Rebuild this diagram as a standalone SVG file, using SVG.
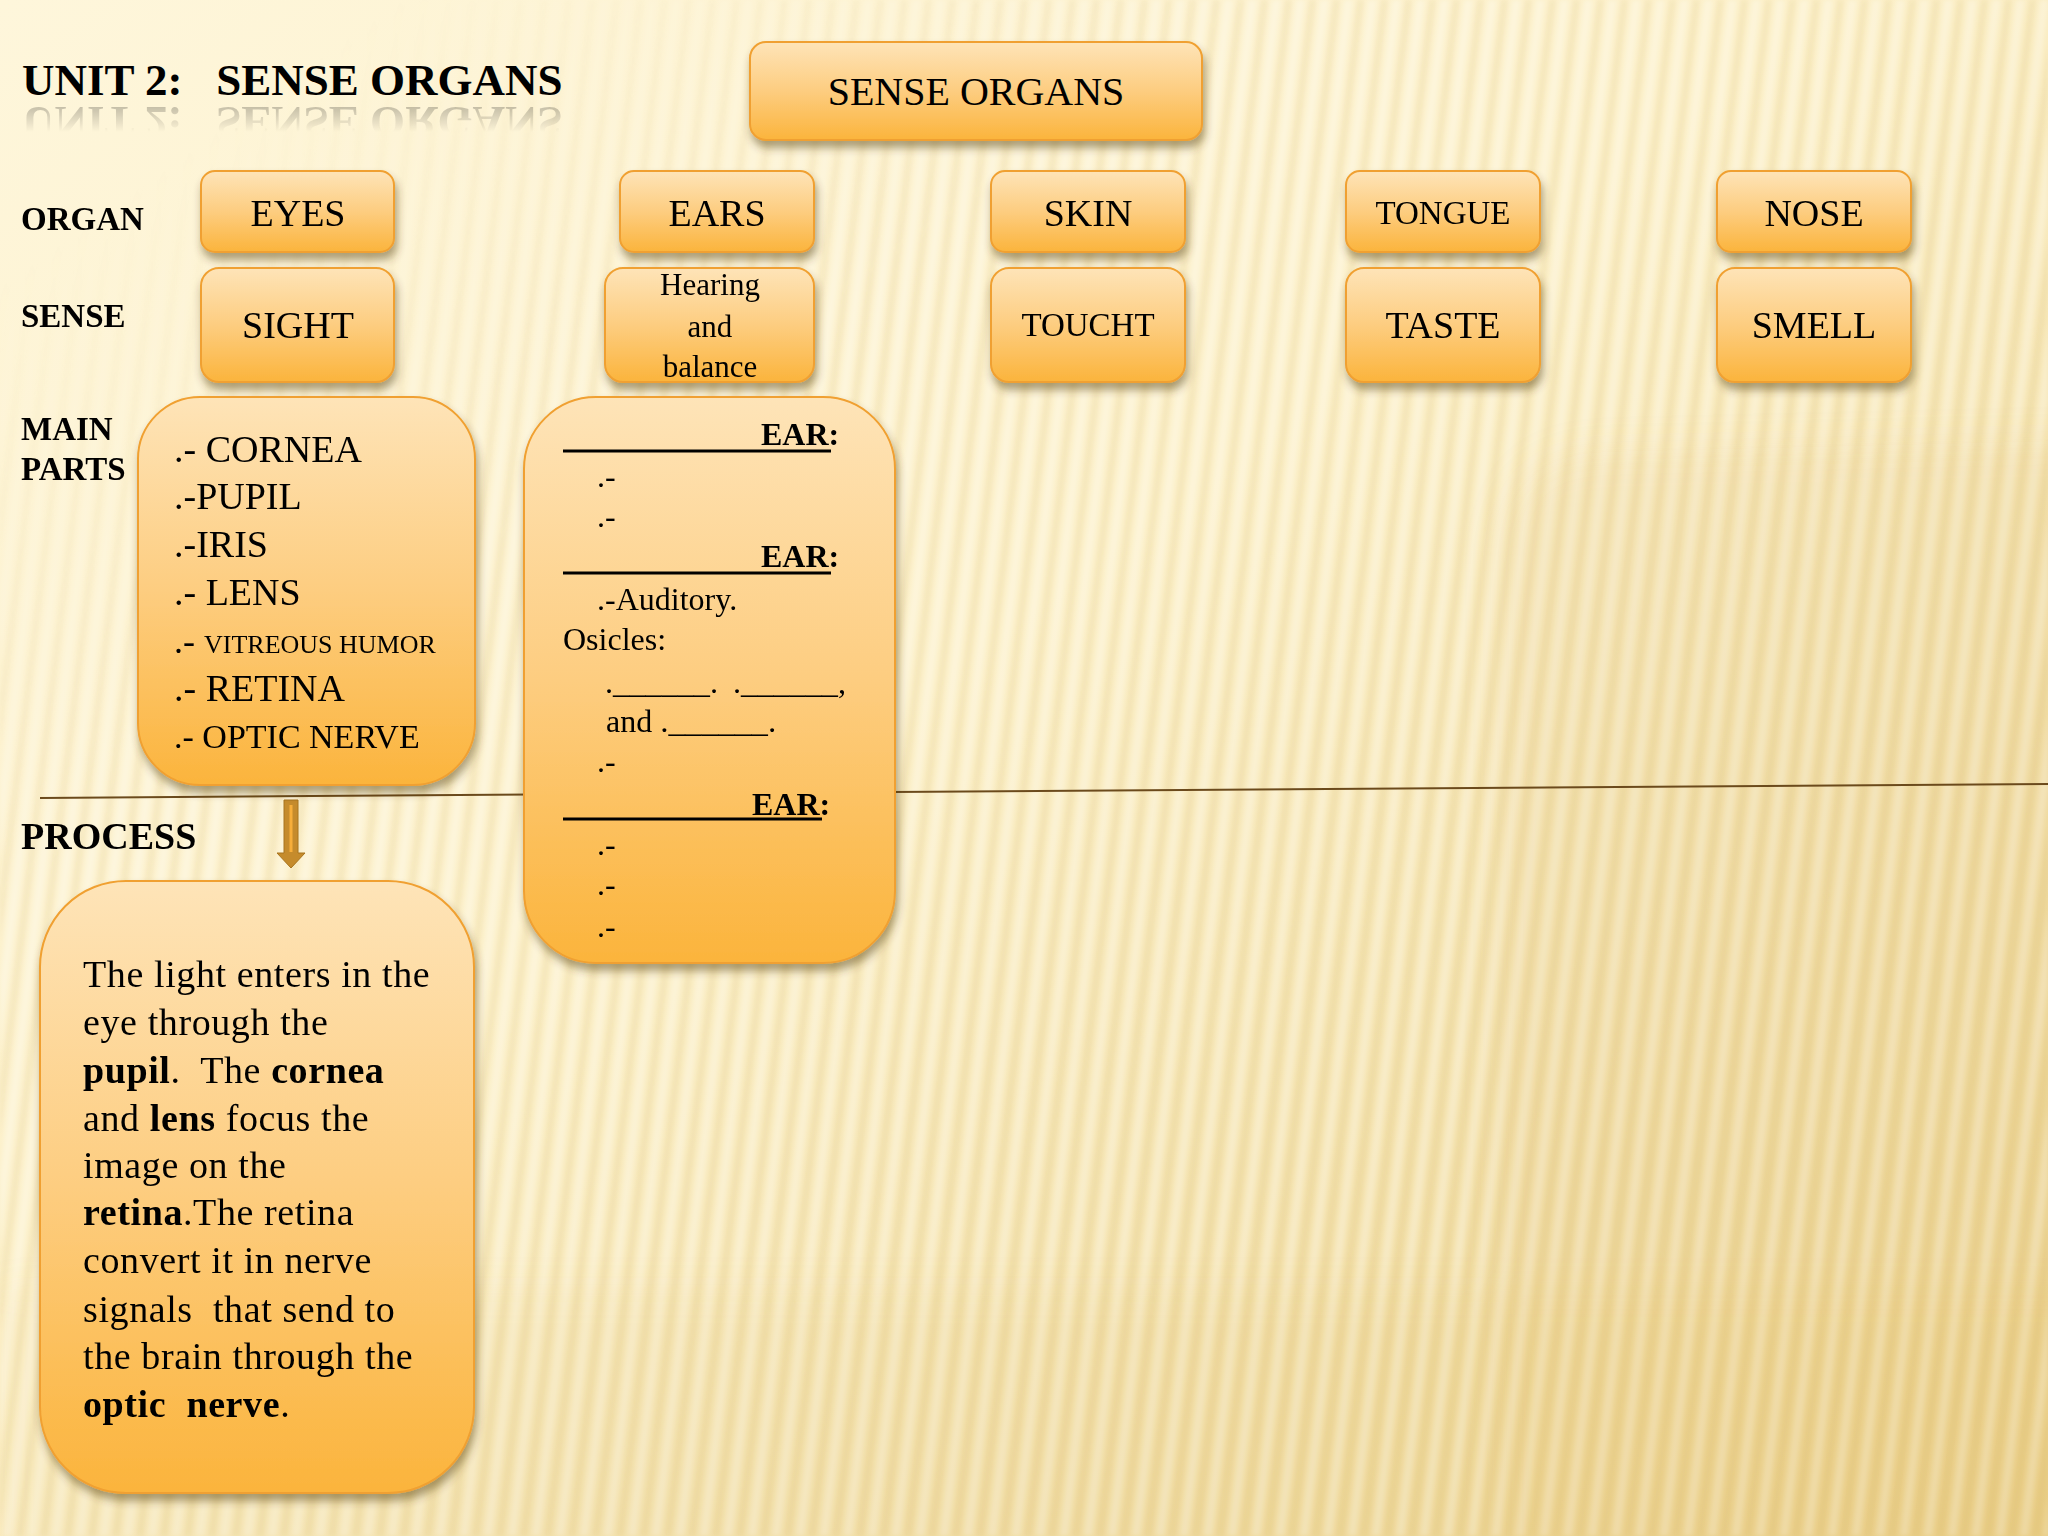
<svg xmlns="http://www.w3.org/2000/svg" width="2048" height="1536" viewBox="0 0 2048 1536">
<style>
.t{font-family:"Liberation Serif","Times New Roman",serif;fill:#000}
.b{font-weight:bold}
.c{text-anchor:middle}
.box{stroke:#F0A030;stroke-width:2}
</style>
<defs>
<linearGradient id="bg" x1="0" y1="0" x2="1" y2="1">
<stop offset="0" stop-color="#FEF6DB"/>
<stop offset="0.45" stop-color="#FCF0C8"/>
<stop offset="1" stop-color="#ECD38E"/>
</linearGradient>
<pattern id="stripes" width="24" height="40" patternUnits="userSpaceOnUse" patternTransform="skewX(-7)">
<rect x="0" width="9" height="40" fill="#FFFFFF" opacity="0.3"/>
<rect x="13" width="7" height="40" fill="#C9A44A" opacity="0.1"/>
</pattern>
<filter id="soft"><feGaussianBlur stdDeviation="2"/></filter>
<filter id="blurBig"><feGaussianBlur stdDeviation="18"/></filter>
<linearGradient id="fadeG" gradientUnits="userSpaceOnUse" x1="300" y1="60" x2="600" y2="480">
<stop offset="0" stop-color="#fff" stop-opacity="0"/>
<stop offset="1" stop-color="#fff" stop-opacity="1"/>
</linearGradient>
<mask id="fadeM"><rect width="2048" height="1536" fill="url(#fadeG)"/></mask>
<linearGradient id="boxG" x1="0" y1="0" x2="0" y2="1">
<stop offset="0" stop-color="#FEE4B8"/>
<stop offset="0.5" stop-color="#FDCD80"/>
<stop offset="1" stop-color="#FBB43C"/>
</linearGradient>
<filter id="sh" x="-10%" y="-10%" width="120%" height="130%">
<feDropShadow dx="2" dy="7" stdDeviation="4" flood-color="#4A3000" flood-opacity="0.45"/>
</filter>
<linearGradient id="reflG" x1="0" y1="0" x2="0" y2="1">
<stop offset="0" stop-color="#fff" stop-opacity="0.28"/>
<stop offset="0.8" stop-color="#fff" stop-opacity="0"/>
</linearGradient>
<mask id="reflM"><rect x="0" y="100" width="600" height="40" fill="url(#reflG)"/></mask>
</defs>

<!-- background -->
<rect width="2048" height="1536" fill="url(#bg)"/>
<rect width="2048" height="1536" fill="url(#stripes)" mask="url(#fadeM)" filter="url(#soft)"/>
<g filter="url(#blurBig)">
<path d="M1500,560 Q1500,455 1600,452 L2100,440 L2100,1600 L1500,1600 Z" fill="#D4AE55" opacity="0.1"/>
<rect x="0" y="1290" width="2100" height="300" fill="#D4AE55" opacity="0.08"/>
</g>

<!-- title -->
<g id="title">
<text id="titleText" class="t b" x="22" y="95" font-size="45" xml:space="preserve">UNIT 2:   SENSE ORGANS</text>
<g mask="url(#reflM)"><use href="#titleText" transform="translate(0,202) scale(1,-1)"/></g>
</g>

<!-- row labels -->
<g id="labels" class="t b">
<text x="21" y="230" font-size="33">ORGAN</text>
<text x="21" y="327" font-size="33">SENSE</text>
<text x="21" y="440" font-size="33">MAIN</text>
<text x="21" y="480" font-size="33">PARTS</text>
<text x="21" y="849" font-size="38">PROCESS</text>
</g>

<!-- connectors -->
<g id="connectors">
<line x1="40" y1="798" x2="2048" y2="784" stroke="#6B4A1C" stroke-width="2"/>
<path d="M284,800 L298,800 L298,853 L305,853 L291,868 L277,853 L284,853 Z" fill="#C58B2C" stroke="#A8741E" stroke-width="1"/>
<line x1="291" y1="805" x2="291" y2="852" stroke="#F7AE3A" stroke-width="3"/>
</g>

<!-- root -->
<g id="sense-organs">
<rect class="box" x="750" y="42" width="452" height="98" rx="16" fill="url(#boxG)" filter="url(#sh)"/>
<text class="t c" x="976" y="105" font-size="40">SENSE ORGANS</text>
</g>

<!-- organs -->
<g id="eyes">
<rect class="box" x="201" y="171" width="193" height="81" rx="14" fill="url(#boxG)" filter="url(#sh)"/>
<text class="t c" x="298" y="226" font-size="38">EYES</text>
</g>
<g id="ears">
<rect class="box" x="620" y="171" width="194" height="81" rx="14" fill="url(#boxG)" filter="url(#sh)"/>
<text class="t c" x="717" y="226" font-size="38">EARS</text>
</g>
<g id="skin">
<rect class="box" x="991" y="171" width="194" height="81" rx="14" fill="url(#boxG)" filter="url(#sh)"/>
<text class="t c" x="1088" y="226" font-size="38">SKIN</text>
</g>
<g id="tongue">
<rect class="box" x="1346" y="171" width="194" height="81" rx="14" fill="url(#boxG)" filter="url(#sh)"/>
<text class="t c" x="1443" y="224" font-size="33">TONGUE</text>
</g>
<g id="nose">
<rect class="box" x="1717" y="171" width="194" height="81" rx="14" fill="url(#boxG)" filter="url(#sh)"/>
<text class="t c" x="1814" y="226" font-size="38">NOSE</text>
</g>

<!-- senses -->
<g id="sight">
<rect class="box" x="201" y="268" width="193" height="114" rx="18" fill="url(#boxG)" filter="url(#sh)"/>
<text class="t c" x="298" y="338" font-size="38">SIGHT</text>
</g>
<g id="hearing">
<rect class="box" x="605" y="268" width="209" height="114" rx="18" fill="url(#boxG)" filter="url(#sh)"/>
<text class="t c" x="710" y="295" font-size="31">Hearing</text>
<text class="t c" x="710" y="337" font-size="31">and</text>
<text class="t c" x="710" y="377" font-size="31">balance</text>
</g>
<g id="touch">
<rect class="box" x="991" y="268" width="194" height="114" rx="18" fill="url(#boxG)" filter="url(#sh)"/>
<text class="t c" x="1088" y="336" font-size="33">TOUCHT</text>
</g>
<g id="taste">
<rect class="box" x="1346" y="268" width="194" height="114" rx="18" fill="url(#boxG)" filter="url(#sh)"/>
<text class="t c" x="1443" y="338" font-size="38">TASTE</text>
</g>
<g id="smell">
<rect class="box" x="1717" y="268" width="194" height="114" rx="18" fill="url(#boxG)" filter="url(#sh)"/>
<text class="t c" x="1814" y="338" font-size="38">SMELL</text>
</g>

<!-- eye parts -->
<g id="eye-parts">
<rect class="box" x="138" y="397" width="337" height="388" rx="62" fill="url(#boxG)" filter="url(#sh)"/>
<text class="t" x="174" y="462" font-size="38" xml:space="preserve">.- CORNEA</text>
<text class="t" x="174" y="509" font-size="38">.-PUPIL</text>
<text class="t" x="174" y="557" font-size="38">.-IRIS</text>
<text class="t" x="174" y="605" font-size="38" xml:space="preserve">.- LENS</text>
<text class="t" x="174" y="653" font-size="36" xml:space="preserve">.- <tspan font-size="26">VITREOUS HUMOR</tspan></text>
<text class="t" x="174" y="701" font-size="38" xml:space="preserve">.- RETINA</text>
<text class="t" x="174" y="748" font-size="34" xml:space="preserve">.- OPTIC NERVE</text>
</g>

<!-- ear parts -->
<g id="ear-parts">
<rect class="box" x="524" y="397" width="371" height="566" rx="72" fill="url(#boxG)" filter="url(#sh)"/>
<g stroke="#000" stroke-width="3">
<line x1="563" y1="451" x2="831" y2="451"/>
<line x1="563" y1="573" x2="831" y2="573"/>
<line x1="563" y1="819" x2="822" y2="819"/>
</g>
<text class="t b" x="761" y="445" font-size="32">EAR:</text>
<text class="t" x="597" y="487" font-size="32">.-</text>
<text class="t" x="597" y="527" font-size="32">.-</text>
<text class="t b" x="761" y="567" font-size="32">EAR:</text>
<text class="t" x="597" y="610" font-size="32">.-Auditory.</text>
<text class="t" x="563" y="650" font-size="32">Osicles:</text>
<text class="t" x="605" y="693" font-size="32" textLength="113" lengthAdjust="spacingAndGlyphs">.______.</text>
<text class="t" x="733" y="693" font-size="32" textLength="113" lengthAdjust="spacingAndGlyphs">.______,</text>
<text class="t" x="606" y="732" font-size="32" xml:space="preserve">and <tspan textLength="116" lengthAdjust="spacingAndGlyphs">.______.</tspan></text>
<text class="t" x="597" y="772" font-size="32">.-</text>
<text class="t b" x="752" y="815" font-size="32">EAR:</text>
<text class="t" x="597" y="855" font-size="32">.-</text>
<text class="t" x="597" y="895" font-size="32">.-</text>
<text class="t" x="597" y="937" font-size="32">.-</text>
</g>

<!-- process -->
<g id="process">
<rect class="box" x="40" y="881" width="434" height="612" rx="86" fill="url(#boxG)" filter="url(#sh)"/>
<g class="t" font-size="38" letter-spacing="0.6">
<text x="83" y="987">The light enters in the</text>
<text x="83" y="1035">eye through the</text>
<text x="83" y="1083" xml:space="preserve"><tspan class="b">pupil</tspan>.  The <tspan class="b">cornea</tspan></text>
<text x="83" y="1131" xml:space="preserve">and <tspan class="b">lens</tspan> focus the</text>
<text x="83" y="1178">image on the</text>
<text x="83" y="1225"><tspan class="b">retina</tspan>.The retina</text>
<text x="83" y="1273">convert it in nerve</text>
<text x="83" y="1322" xml:space="preserve">signals  that send to</text>
<text x="83" y="1369">the brain through the</text>
<text x="83" y="1417" xml:space="preserve"><tspan class="b">optic  nerve</tspan>.</text>
</g>
</g>
</svg>
